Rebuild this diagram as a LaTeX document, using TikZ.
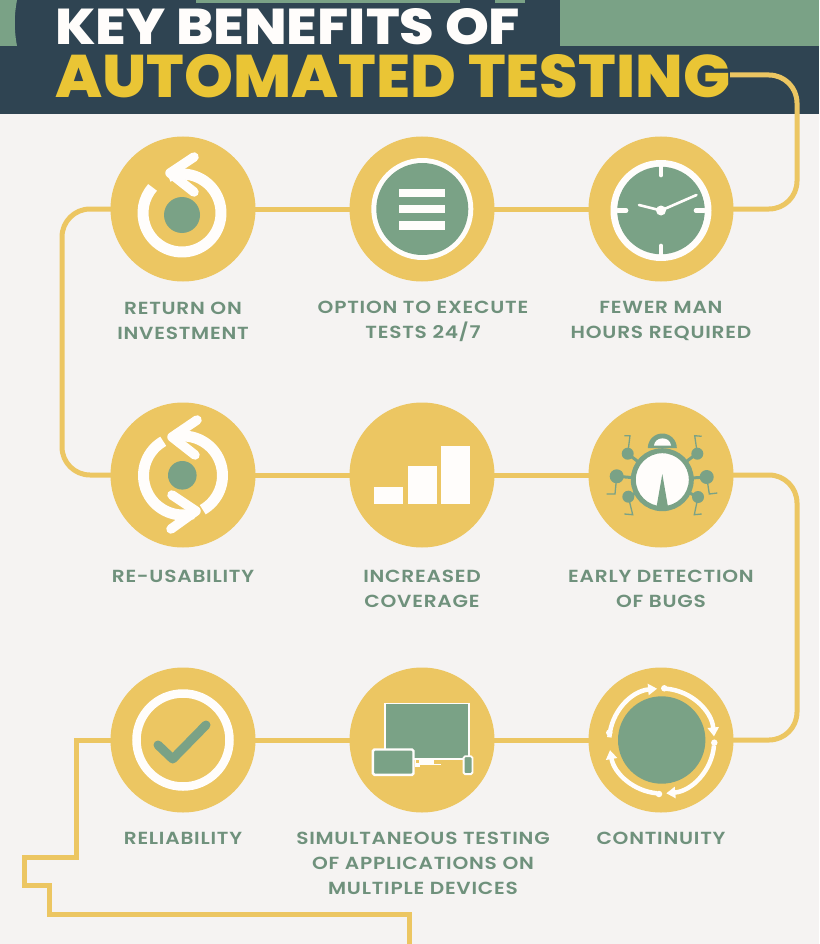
\documentclass[tikz,border=0pt]{standalone}
\usepackage{fontspec}
\setmainfont{Poppins}
\newfontfamily\lab[LetterSpace=4.4,FakeStretch=1.15]{Poppins SemiBold}
\newfontfamily\headfont{Poppins ExtraBold}
\usetikzlibrary{arrows.meta,backgrounds,calc}
\definecolor{gold}{HTML}{ECC662}
\definecolor{sage}{HTML}{7AA286}
\definecolor{navy}{HTML}{2F4452}
\definecolor{paper}{HTML}{F5F3F2}
\definecolor{labelgreen}{HTML}{6F917C}
\definecolor{titlegold}{HTML}{EAC535}
\definecolor{snow}{HTML}{FFFDFB}
\tikzset{
  badge/.style={circle,fill=gold,minimum size=145pt,inner sep=0pt},
  conn/.style={draw=gold,line width=5pt,rounded corners=28pt},
  connsharp/.style={draw=gold,line width=5pt,line join=miter},
  caption/.style={text=labelgreen,font=\lab\fontsize{17.5}{25}\selectfont,align=center,anchor=center},
  stroke/.style={draw=snow,line width=9.5pt,line cap=round,line join=round},
  ringarc/.style={draw=snow,line width=11pt},
  facewhite/.style={circle,fill=snow,inner sep=0pt},
  faceinner/.style={circle,fill=sage,inner sep=0pt},
  bar/.style={fill=snow},
  leg/.style={draw=sage,line width=1.3pt,line join=miter},
  limb/.style={draw=sage,line width=3pt},
  joint/.style={circle,fill=sage,inner sep=0pt},
  contarc/.style={draw=snow,line width=4.5pt,-{Triangle[length=9pt,width=11pt]}},
  contdot/.style={circle,fill=snow,minimum size=6.5pt,inner sep=0pt},
}
\begin{document}
\begin{tikzpicture}[x=1pt,y=-1pt]
\useasboundingbox (0,0) rectangle (819,944);
% badges
\node[badge] (a1) at (183,209) {};
\node[badge] (a2) at (422,209) {};
\node[badge] (a3) at (661,209) {};
\node[badge] (b1) at (183,475) {};
\node[badge] (b2) at (422,475) {};
\node[badge] (b3) at (661,475) {};
\node[badge] (c1) at (183,740) {};
\node[badge] (c2) at (422,740) {};
\node[badge] (c3) at (661,740) {};
% title and header
\begin{pgfonlayer}{background}
\fill[paper] (0,0) rectangle (819,944);
\fill[navy] (0,0) rectangle (819,114);
\fill[sage] (560,0) rectangle (819,46);
\fill[sage] (0,0) -- (17,0) .. controls (14,15) and (14,30) .. (17,46) -- (0,46) -- cycle;
\fill[sage] (196,0) rectangle (460,3);
\fill[sage] (495,0) rectangle (525,3);
\coordinate (titleend) at (730,75);
\coordinate (e1) at (797,75);
\coordinate (e2) at (797,209);
\coordinate (w1) at (62,209);
\coordinate (w2) at (62,475);
\coordinate (e3) at (797,475);
\coordinate (e4) at (797,740);
\coordinate (s1) at (76,740);
\coordinate (s2) at (76,857);
\coordinate (s3) at (24,857);
\coordinate (s4) at (24,885);
\coordinate (s5) at (49,885);
\coordinate (s6) at (49,914);
\coordinate (s7) at (409,914);
\coordinate (s8) at (409,944);
\draw[conn] (titleend) -- (e1) -- (e2) -- (a3.center);
\draw[conn] (a3.center) -- (a1.center);
\draw[conn] (a1.center) -- (w1) -- (w2) -- (b1.center);
\draw[conn] (b1.center) -- (b3.center);
\draw[conn] (b3.center) -- (e3) -- (e4) -- (c3.center);
\draw[conn] (c3.center) -- (c1.center);
\draw[connsharp] (c1.center) -- (s1) -- (s2) -- (s3) -- (s4) -- (s5) -- (s6) -- (s7) -- (s8);
\end{pgfonlayer}
\node[text=snow,inner sep=0pt,anchor=west] (title1) at (55,26.5) {\resizebox{465pt}{36pt}{\headfont KEY BENEFITS OF}};
\node[text=titlegold,inner sep=0pt,anchor=west] (title2) at (55,76.5) {\resizebox{675pt}{43pt}{\headfont AUTOMATED TESTING}};
% captions
\node[caption] (t1) at (183,321) {RETURN ON\\INVESTMENT};
\node[caption] (t2) at (423,321) {OPTION TO EXECUTE\\TESTS 24/7};
\node[caption] (t3) at (661,321) {FEWER MAN\\HOURS REQUIRED};
\node[caption] (t4) at (183,576) {RE-USABILITY};
\node[caption] (t5) at (422,589) {INCREASED\\COVERAGE};
\node[caption] (t6) at (661,589) {EARLY DETECTION\\OF BUGS};
\node[caption] (t7) at (183,838) {RELIABILITY};
\node[caption] (t8) at (423,863) {SIMULTANEOUS TESTING\\OF APPLICATIONS ON\\MULTIPLE DEVICES};
\node[caption] (t9) at (661,838) {CONTINUITY};
% icon: return on investment
\fill[sage] (182,215) circle (18);
\coordinate (r0) at (182,213);
\draw[ringarc] ($(r0)+(-110:39)$) arc[start angle=-110,end angle=221,radius=39];
\draw[stroke] (194,157) -- (170,173) -- (194,192);
% icon: execute 24/7
\node[facewhite,minimum size=102pt] at (422.3,209) {};
\node[faceinner,minimum size=92pt] at (422.3,209) {};
\fill[snow] (399.3,188.7) rectangle (445.3,197.3);
\fill[snow] (399.3,204.5) rectangle (445.3,213.3);
\fill[snow] (399.3,221.3) rectangle (445.3,230);
% icon: clock
\node[facewhite,minimum size=101pt] at (661,210.5) {};
\node[faceinner,minimum size=87.5pt] at (661,210.5) {};
\draw[snow,line width=4.7pt,line cap=round] (661,167) -- (661,175);
\draw[snow,line width=4.7pt,line cap=round] (661,254) -- (661,246);
\draw[snow,line width=4.7pt,line cap=round] (618,210.5) -- (626,210.5);
\draw[snow,line width=4.7pt,line cap=round] (704,210.5) -- (696,210.5);
\draw[snow,line width=2.6pt,line cap=round] (661,210.5) -- (696.5,195);
\draw[snow,line width=2.6pt,line cap=round] (661,210.5) -- (639,205);
\fill[snow] (661,210.5) circle (5);
% icon: re-usability
\fill[sage] (182.3,475.3) circle (14.3);
\coordinate (u0) at (183,475.5);
\draw[ringarc] ($(u0)+(-105:39.5)$) arc[start angle=-105,end angle=60,radius=39.5];
\draw[ringarc] ($(u0)+(-120:39.5)$) arc[start angle=-120,end angle=-285,radius=39.5];
\draw[stroke] (197,420) -- (172,437) -- (195,455);
\draw[stroke] (172,495) -- (196,511) -- (171,529);
% icon: coverage
\fill[bar] (374,487.3) rectangle (402.7,504);
\fill[bar] (407.7,466.3) rectangle (436.7,504);
\fill[bar] (441,445.7) rectangle (470,504);
% icon: bug
\fill[sage] (647.8,448) arc[start angle=180,end angle=360,radius=14.5] -- cycle;
\fill[snow] (654,445.5) .. controls (655,436) and (670,436) .. (671,445.5) -- cycle;
\draw[limb] (662,480) -- (627.7,453.7);
\draw[limb] (662,480) -- (696.7,453.7);
\draw[limb] (662,480) -- (616.7,476.3);
\draw[limb] (662,480) -- (706.7,477);
\draw[limb] (662,480) -- (628.3,496.7);
\draw[limb] (662,480) -- (698,497);
\node[circle,fill=snow,draw=sage,line width=5pt,minimum size=58pt,inner sep=0pt] (bugbody) at (662.3,479.7) {};
\fill[sage] (662.3,474) -- (656.5,507) -- (668,507) -- cycle;
\node[joint,minimum size=12pt] at (627.7,453.7) {};
\node[joint,minimum size=14pt] at (616.7,476.3) {};
\node[joint,minimum size=12pt] at (628.3,496.7) {};
\node[joint,minimum size=12pt] at (697.3,453.7) {};
\node[joint,minimum size=14pt] at (706.7,477) {};
\node[joint,minimum size=12pt] at (698,497) {};
\draw[leg] (627.7,453.7) -- (630,435.7) -- (624.3,435.7);
\draw[leg] (616.7,476.3) -- (615,494) -- (606.7,494);
\draw[leg] (628.3,496.7) -- (632.7,514.7) -- (624.3,514);
\draw[leg] (697.3,453.7) -- (694.7,435.7) -- (701.7,436.3);
\draw[leg] (706.7,477) -- (709.3,494) -- (717.3,493);
\draw[leg] (698,497) -- (694.3,514.7) -- (701.7,514);
% icon: reliability
\node[circle,draw=snow,line width=8.5pt,minimum size=93pt,inner sep=0pt] at (183,740) {};
\draw[sage,line width=9pt,line cap=round,line join=round] (158,745) -- (172.7,759) -- (206,725);
% icon: devices
\draw[snow,line width=1.7pt,fill=sage] (385,703.5) rectangle (469,759);
\fill[snow] (419,758) rectangle (434,764);
\draw[snow,line width=1.6pt] (415,764.5) -- (441,764.5);
\fill[snow] (415,759) rectangle (420,767);
\fill[gold] (416,759.5) rectangle (419,763);
\draw[snow,line width=2.4pt,fill=sage,rounded corners=1.5pt] (372.9,749.5) rectangle (413.5,774.8);
\draw[snow,line width=1.8pt,fill=sage,rounded corners=1.5pt] (463.6,756.2) rectangle (472.4,774.1);
% icon: continuity
\fill[sage] (661.7,740) circle (43.7);
\coordinate (cc) at (661.7,741);
\draw[contarc] ($(cc)+(-176:52.5)$) arc[start angle=-176,end angle=-95,radius=52.5];
\draw[contarc] ($(cc)+(-85:52.5)$) arc[start angle=-85,end angle=-5,radius=52.5];
\draw[contarc] ($(cc)+(5:52.5)$) arc[start angle=5,end angle=85,radius=52.5];
\draw[contarc] ($(cc)+(95:52.5)$) arc[start angle=95,end angle=170,radius=52.5];
\node[contdot] at (664.3,688.3) {};
\node[contdot] at (714.3,742.7) {};
\node[contdot] at (659,794) {};
\node[contdot] at (609.3,732.7) {};
\end{tikzpicture}
\end{document}
